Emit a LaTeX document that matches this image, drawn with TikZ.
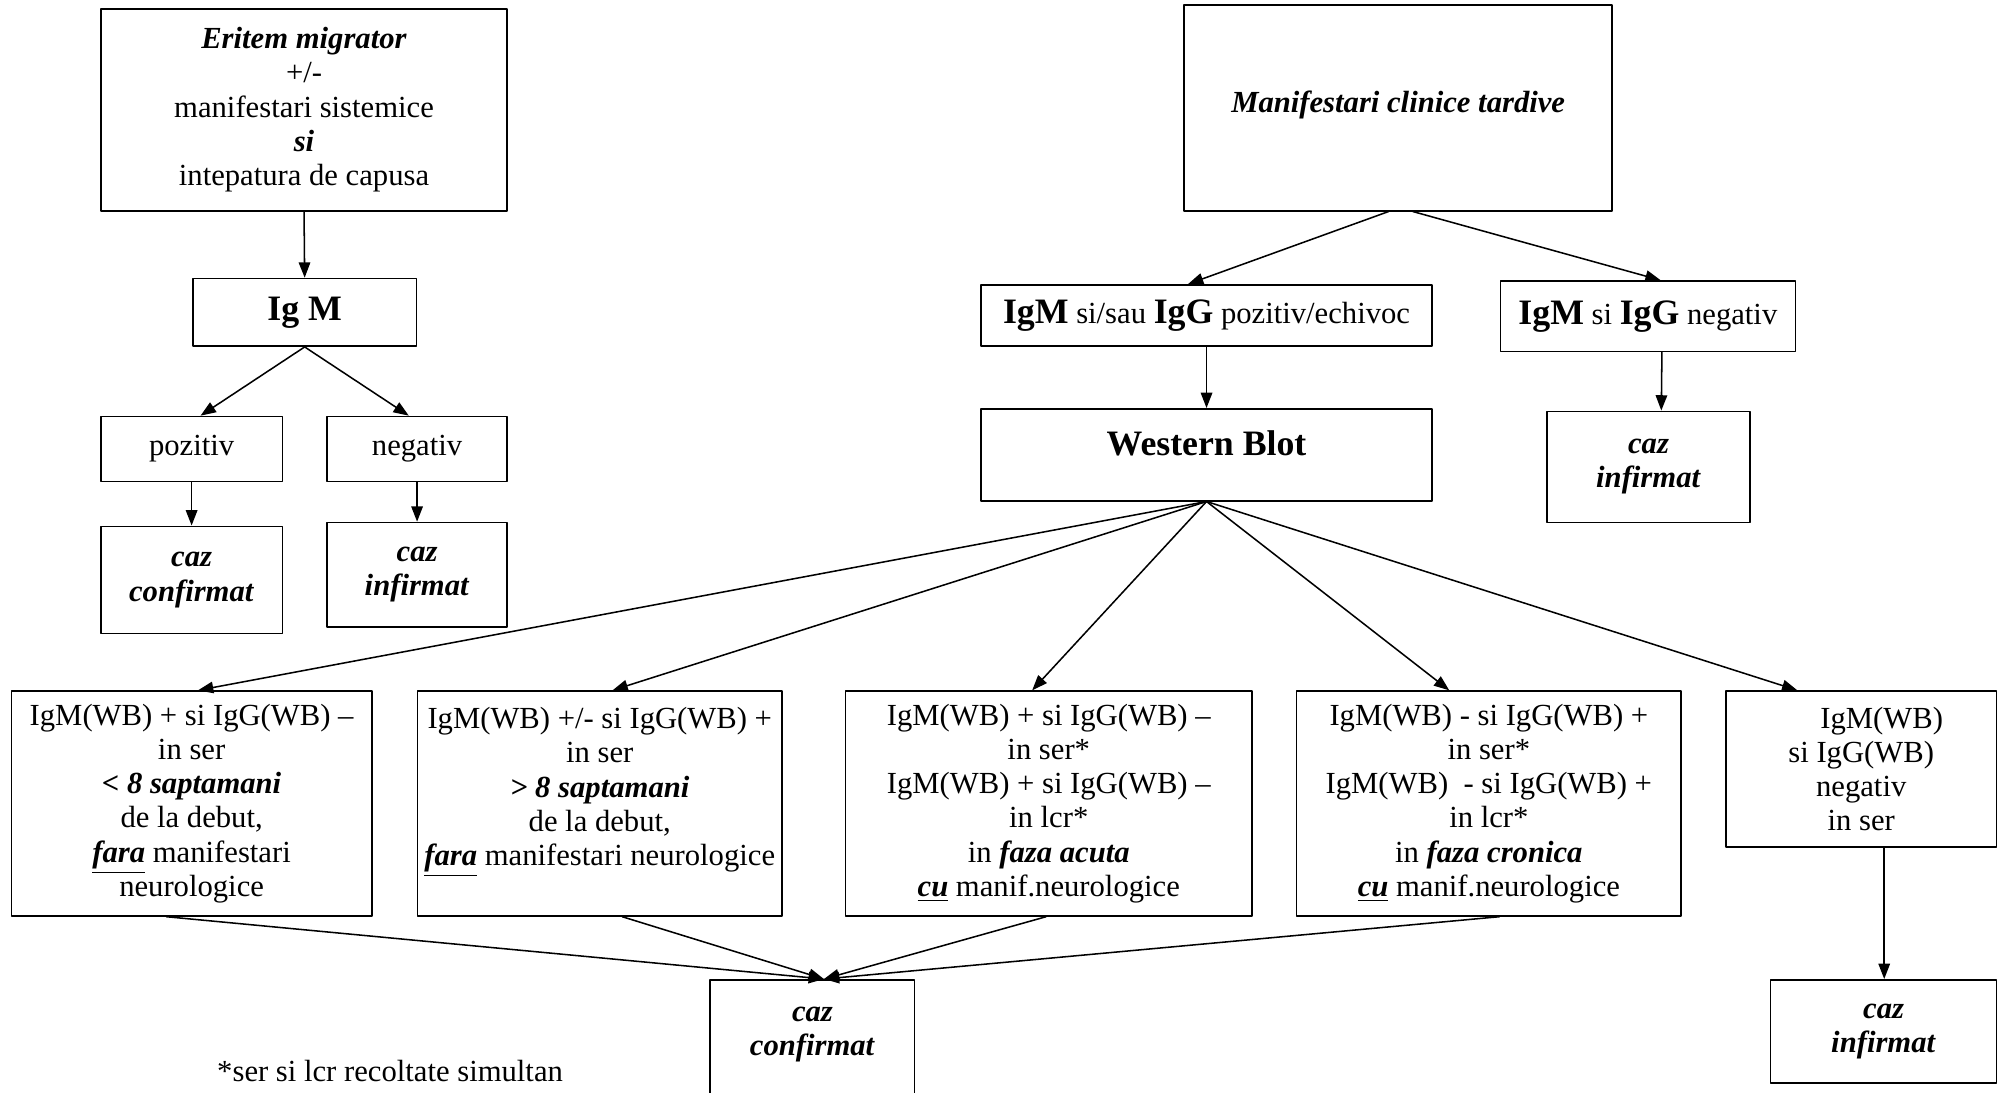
\documentclass[tikz,border=0pt]{standalone}
\usepackage{fontspec}
\setmainfont{Liberation Serif}
\usetikzlibrary{arrows.meta}
\newcommand{\bfit}[1]{\textbf{\textit{#1}}}
\newcommand{\mare}[1]{{\fontsize{14}{16}\selectfont\textbf{#1}}}
\begin{document}
\begin{tikzpicture}[x=0.5pt,y=-0.5pt,line join=round,>={Triangle[length=6pt,width=4.5pt]},
		every node/.style={font=\fontsize{12}{13.4}\selectfont},
		caseta/.style={draw,line width=0.6pt,align=center,inner sep=0pt},
		sageata/.style={->,line width=0.6pt}]
	\useasboundingbox (0,0) rectangle (1568,855);
	\clip (0,0) rectangle (1568,855);
	\node[caseta,minimum width=159pt,minimum height=79pt] (em) at (238,86) {\bfit{Eritem migrator}\\+/-\\manifestari sistemice\\\bfit{si}\\intepatura de capusa};
	\node[caseta,minimum width=87.5pt,minimum height=26.5pt] (igm) at (238.5,244.5) {\mare{Ig M}};
	\node[caseta,minimum width=71pt,minimum height=25.5pt] (poz) at (150,351.5) {pozitiv};
	\node[caseta,minimum width=70.5pt,minimum height=25.5pt] (neg) at (326.5,351.5) {negativ};
	\node[caseta,minimum width=71pt,minimum height=42pt] (cc1) at (150,454) {\bfit{caz}\\\bfit{confirmat}};
	\node[caseta,minimum width=70.5pt,minimum height=41pt] (ci1) at (326.5,450) {\bfit{caz}\\\bfit{infirmat}};
	\node[caseta,minimum width=167.5pt,minimum height=80.5pt,text depth=5pt] (mct) at (1094.5,84.5) {\bfit{Manifestari clinice tardive}};
	\node[caseta,minimum width=176.5pt,minimum height=24pt] (pe) at (944.5,247) {\mare{IgM} si/sau \mare{IgG} pozitiv/echivoc};
	\node[caseta,minimum width=115.5pt,minimum height=27.5pt] (ng) at (1290,247.5) {\mare{IgM} si \mare{IgG} negativ};
	\node[caseta,minimum width=176.5pt,minimum height=36pt,text depth=9pt] (wb) at (944.5,356) {\mare{Western Blot}};
	\node[caseta,minimum width=79.5pt,minimum height=43.5pt] (ci2) at (1290.5,365.5) {\bfit{caz}\\\bfit{infirmat}};
	\node[caseta,minimum width=141pt,minimum height=88pt] (rez1) at (150,629) {IgM(WB) + si IgG(WB) –\\in ser\\\bfit{< 8 saptamani}\\de la debut,\\\underline{\bfit{fara}} manifestari\\neurologice};
	\node[caseta,minimum width=142.5pt,minimum height=88pt] (rez2) at (469.5,629) {IgM(WB) +/- si IgG(WB) +\\in ser\\\bfit{> 8 saptamani}\\de la debut,\\\underline{\bfit{fara}} manifestari neurologice\\\mbox{}};
	\node[caseta,minimum width=159pt,minimum height=88pt] (rez3) at (821,629) {IgM(WB) + si IgG(WB) –\\in ser*\\IgM(WB) + si IgG(WB) –\\in lcr*\\in \bfit{faza acuta}\\\underline{\bfit{cu}} manif.neurologice};
	\node[caseta,minimum width=150.5pt,minimum height=88pt] (rez4) at (1165.5,629) {IgM(WB) - si IgG(WB) +\\in ser*\\IgM(WB)\ \ - si IgG(WB) +\\in lcr*\\in \bfit{faza cronica}\\\underline{\bfit{cu}} manif.neurologice};
	\node[caseta,minimum width=106pt,minimum height=61pt] (rez5) at (1457,602) {\hspace*{16pt}IgM(WB)\\si IgG(WB)\\negativ\\in ser};
	\node[caseta,minimum width=80pt,minimum height=67pt] (cc2) at (636,834) {\bfit{caz}\\\bfit{confirmat}\\\mbox{}\\\mbox{}};
	\node[caseta,minimum width=88.5pt,minimum height=40.5pt] (ci3) at (1474.5,807.5) {\bfit{caz}\\\bfit{infirmat}};
	\node[anchor=base west] (nota) at (163,847) {*ser si lcr recoltate simultan};
	\draw[sageata] (em.south) -- (igm.north);
	\draw[sageata] (igm.south) -- ([xshift=3.5pt]poz.north);
	\draw[sageata] (igm.south) -- ([xshift=-3.25pt]neg.north);
	\draw[sageata] (poz.south) -- (cc1.north);
	\draw[sageata] (neg.south) -- (ci1.north);
	\draw[sageata] ([xshift=-3.75pt]mct.south) -- ([xshift=-7.25pt]pe.north);
	\draw[sageata] ([xshift=5.75pt]mct.south) -- ([xshift=5pt]ng.north);
	\draw[sageata] (pe.south) -- (wb.north);
	\draw[sageata] ([xshift=5.5pt]ng.south) -- ([xshift=5pt]ci2.north);
	\foreach \tinta/\dx in {rez1/2.5,rez2/5,rez3/-6.5,rez4/-15.5,rez5/-25}
		\draw[sageata] (wb.south) -- ([xshift=\dx pt]\tinta.north);
	\foreach \sursa/\dx in {rez1/-10,rez2/8.75,rez3/-1,rez4/4.25}
		\draw[sageata] ([xshift=\dx pt]\sursa.south) -- ([xshift=4.5pt]cc2.north);
	\draw[sageata] ([xshift=9pt]rez5.south) -- ([xshift=0.25pt]ci3.north);
\end{tikzpicture}
\end{document}
